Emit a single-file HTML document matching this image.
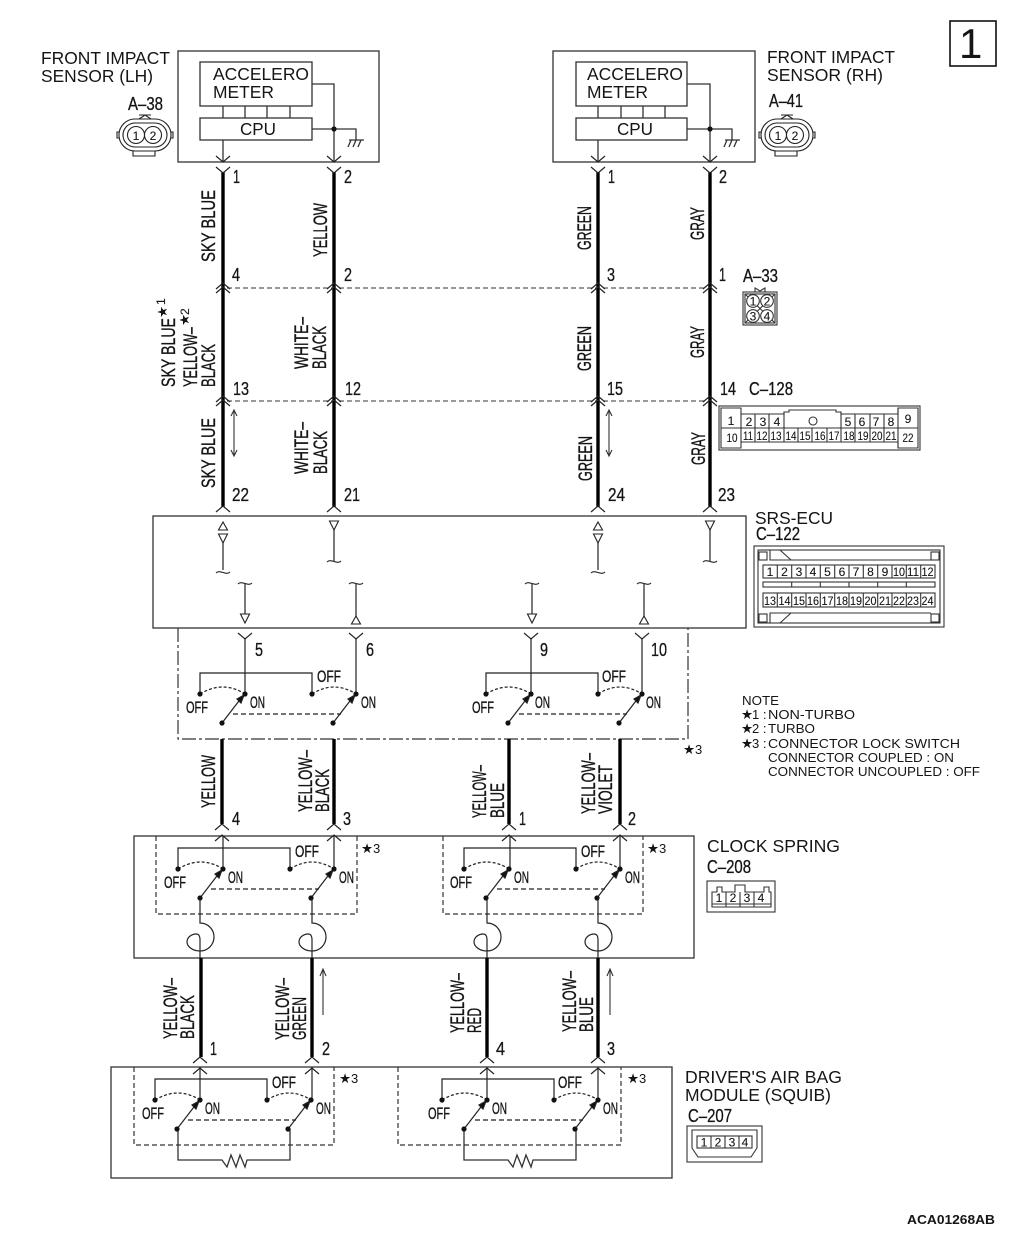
<!DOCTYPE html>
<html><head><meta charset="utf-8"><style>
html,body{margin:0;padding:0;background:#fff}
svg{display:block;position:absolute;left:0;top:0}
text{font-family:"Liberation Sans","DejaVu Sans",sans-serif;fill:#151515;stroke:none}
.n{font-size:18px;stroke:#151515;stroke-width:.3px}
.v{font-size:19px;stroke:#151515;stroke-width:.35px}
.t{font-size:17.5px}
.s{font-size:12px;stroke:#151515;stroke-width:.12px}
.o{font-size:17px;stroke:#151515;stroke-width:.35px}
.st{font-size:13.5px;font-family:"DejaVu Sans",sans-serif}
.nt{font-size:13px}
</style></head><body>
<svg width="1010" height="1235" viewBox="0 0 1010 1235" xmlns="http://www.w3.org/2000/svg">
<defs>
<path id="vv" d="M-7 -6L0 0L7 -6" fill="none" stroke="#222" stroke-width="1.2"/>
<path id="cc" d="M-7 6L0 0L7 6" fill="none" stroke="#222" stroke-width="1.2"/>
<path id="tu" d="M-4.500 8H4.500L0 0Z" fill="#fff" stroke="#222" stroke-width="1.1"/>
<path id="td" d="M-4.500 0H4.500L0 9Z" fill="#fff" stroke="#222" stroke-width="1.1"/>
<path id="ti" d="M-7 1C-3 -3 3 4 7 0" fill="none" stroke="#222" stroke-width="1.1"/>
<g id="sw" fill="none" stroke="#222" stroke-width="1.2">
<path d="M-45 0V-21H67V0"/>
<path d="M-45 0Q-22 -14 0 0M67 0Q89 -14 111 0" stroke-dasharray="3 2"/>
<path d="M-12 20H96" stroke-dasharray="5 3"/>
<path d="M-23 29L-3 3M88 29L108 3"/>
<path d="M-1 1L-8 5L-4 9Z M110 1L103 5L107 9Z" fill="#111"/>
<g fill="#111" stroke="none"><circle cx="-45" cy="0" r="2.6"/><circle cx="0" cy="0" r="2.6"/><circle cx="67" cy="0" r="2.6"/><circle cx="111" cy="0" r="2.6"/><circle cx="-23" cy="29" r="2.6"/><circle cx="88" cy="29" r="2.6"/></g>
</g>
<path id="sp" d="M0 0V25A14 14 0 0 1 0 53C-8 53 -13 48 -13 44C-13 39 -8 36 -4 36C-1 36 0 38 0 42V60" fill="none" stroke="#222" stroke-width="1.2"/>
<g id="oval" fill="none" stroke="#222" stroke-width="1.1">
<rect x="-26" y="-16" width="52" height="32" rx="16"/>
<rect x="-22" y="-12" width="44" height="24" rx="12"/>
<circle cx="-9" cy="0" r="8.5"/><circle cx="8" cy="0" r="8.5"/>
<path d="M-6 -16L0 -20L6 -16M-6 -20H6M-12 16V21H10V16"/>
<path d="M-26 -3H-28V3H-26M26 -3H28V3H26"/>
</g>
</defs>

<!-- page box -->
<rect x="950" y="21" width="46" height="45" fill="none" stroke="#111" stroke-width="1.6"/>
<text x="959" y="58" font-size="42">1</text>

<g fill="none" stroke="#333" stroke-width="1.3">
<!-- sensors -->
<rect x="178" y="51" width="201" height="111"/>
<rect x="200" y="62" width="112" height="44"/>
<rect x="200" y="118" width="112" height="22"/>
<path d="M223 106V118M245 106V118M267 106V118M290 106V118"/>
<path d="M312 84H334V162M312 129H356V140M348 147L351 140M353 147L356 140M358 147L361 140M349 140H364"/>
<path d="M223 140V162"/>
<rect x="553" y="51" width="202" height="111"/>
<rect x="576" y="62" width="111" height="44"/>
<rect x="576" y="118" width="111" height="22"/>
<path d="M598 106V118M621 106V118M643 106V118M665 106V118"/>
<path d="M687 84H710V162M687 129H732V140M724 147L727 140M729 147L732 140M734 147L737 140M725 140H740"/>
<path d="M598 140V162"/>
<!-- ECU -->
<rect x="153" y="516" width="593" height="112"/>
<path d="M223 543V570M334 530V561M245 583V614M356 583V616M598 543V570M710 530V561M532 583V614M644 583V616"/>
<!-- clock spring / module -->
<rect x="134" y="836" width="560" height="122"/>
<rect x="111" y="1067" width="561" height="111"/>
<!-- connector wires thin -->
<path d="M245 638V694M356 638V694M531 638V694M642 638V694"/>
<path d="M223 836V869M334 836V869M510 836V869M620 836V869"/>
<path d="M200 1067V1100M312 1067V1100M487 1067V1100M598 1067V1100"/>
<!-- resistor loops -->
<path d="M178 1129V1160H222L227 1167L231 1155L236 1167L240 1155L245 1167L247 1160H290V1129"/>
<path d="M464 1129V1160H508L513 1167L517 1155L522 1167L526 1155L531 1167L533 1160H576V1129"/>
</g>
<circle cx="334" cy="129" r="2.6" fill="#111"/><circle cx="710" cy="129" r="2.6" fill="#111"/>

<!-- dashed rows -->
<path d="M227 288H705M227 401H705" fill="none" stroke="#333" stroke-width="1.1" stroke-dasharray="5 3"/>
<!-- dash-dot -->
<path d="M178 628V739H688V628" fill="none" stroke="#333" stroke-width="1.2" stroke-dasharray="14 3 3 3"/>
<!-- dashed switch boxes -->
<g fill="none" stroke="#333" stroke-width="1.2" stroke-dasharray="5 3">
<path d="M156 836V914H357V836"/>
<path d="M443 836V914H643V836"/>
<path d="M134 1067V1145H334V1067"/>
<path d="M398 1067V1145H621V1067"/>
</g>

<!-- thick wires -->
<g stroke="#000" stroke-width="3.4" fill="none">
<path d="M223 172V507M334 172V507M598 172V507M710 172V507"/>
<path d="M222 739V824M334 739V824M509 739V824M620 739V824"/>
<path d="M201 958V1057M312 958V1057M487 958V1057M598 958V1057"/>
</g>

<!-- chevrons -->
<g>
<use href="#vv" x="223" y="162"/><use href="#vv" x="223" y="173"/><use href="#vv" x="334" y="162"/><use href="#vv" x="334" y="173"/>
<use href="#vv" x="598" y="162"/><use href="#vv" x="598" y="173"/><use href="#vv" x="710" y="162"/><use href="#vv" x="710" y="173"/>
<use href="#cc" x="223" y="283"/><use href="#cc" x="223" y="287"/><use href="#cc" x="334" y="283"/><use href="#cc" x="334" y="287"/>
<use href="#cc" x="598" y="283"/><use href="#cc" x="598" y="287"/><use href="#cc" x="710" y="283"/><use href="#cc" x="710" y="287"/>
<use href="#cc" x="223" y="396"/><use href="#cc" x="223" y="400"/><use href="#cc" x="334" y="396"/><use href="#cc" x="334" y="400"/>
<use href="#cc" x="598" y="396"/><use href="#cc" x="598" y="400"/><use href="#cc" x="710" y="396"/><use href="#cc" x="710" y="400"/>
<use href="#cc" x="223" y="506"/><use href="#cc" x="334" y="506"/><use href="#cc" x="598" y="506"/><use href="#cc" x="710" y="506"/>
<use href="#vv" x="245" y="639"/><use href="#vv" x="356" y="639"/><use href="#vv" x="531" y="639"/><use href="#vv" x="642" y="639"/>
<use href="#cc" x="222" y="824"/><use href="#cc" x="222" y="835"/><use href="#cc" x="334" y="824"/><use href="#cc" x="334" y="835"/>
<use href="#cc" x="509" y="824"/><use href="#cc" x="509" y="835"/><use href="#cc" x="620" y="824"/><use href="#cc" x="620" y="835"/>
<use href="#cc" x="200" y="1057"/><use href="#cc" x="200" y="1068"/><use href="#cc" x="312" y="1057"/><use href="#cc" x="312" y="1068"/>
<use href="#cc" x="487" y="1057"/><use href="#cc" x="487" y="1068"/><use href="#cc" x="598" y="1057"/><use href="#cc" x="598" y="1068"/>
</g>

<!-- ECU triangles -->
<use href="#tu" x="223" y="522"/><use href="#td" x="223" y="534"/><use href="#ti" x="223" y="572"/>
<use href="#td" x="334" y="521"/><use href="#ti" x="334" y="561"/>
<use href="#tu" x="598" y="522"/><use href="#td" x="598" y="534"/><use href="#ti" x="598" y="572"/>
<use href="#td" x="710" y="521"/><use href="#ti" x="710" y="561"/>
<use href="#ti" x="245" y="583"/><use href="#td" x="245" y="614"/>
<use href="#ti" x="356" y="583"/><use href="#tu" x="356" y="616"/>
<use href="#ti" x="532" y="583"/><use href="#td" x="532" y="614"/>
<use href="#ti" x="644" y="583"/><use href="#tu" x="644" y="616"/>

<!-- switches -->
<use href="#sw" x="245" y="694"/><use href="#sw" x="531" y="694"/>
<use href="#sw" x="223" y="869"/><use href="#sw" x="509" y="869"/>
<use href="#sw" x="200" y="1100"/><use href="#sw" x="487" y="1100"/>
<use href="#sp" x="200" y="898"/><use href="#sp" x="312" y="898"/><use href="#sp" x="487" y="898"/><use href="#sp" x="598" y="898"/>

<!-- double arrows -->
<g fill="none" stroke="#333" stroke-width="1.1">
<path d="M234 411V455M231 416L234 410L237 416M231 450L234 456L237 450"/>
<path d="M609 411V455M606 416L609 410L612 416M606 450L609 456L612 450"/>
<path d="M323 970V1015M320 976L323 969L326 976"/>
<path d="M610 970V1015M607 976L610 969L613 976"/>
</g>

<!-- switch labels -->
<g>
<text class="o" x="186" y="713" textLength="22" lengthAdjust="spacingAndGlyphs">OFF</text><text class="o" x="250" y="708" textLength="15" lengthAdjust="spacingAndGlyphs">ON</text><text class="o" x="317" y="682" textLength="24" lengthAdjust="spacingAndGlyphs">OFF</text><text class="o" x="361" y="708" textLength="15" lengthAdjust="spacingAndGlyphs">ON</text>
<text class="o" x="472" y="713" textLength="22" lengthAdjust="spacingAndGlyphs">OFF</text><text class="o" x="535" y="708" textLength="15" lengthAdjust="spacingAndGlyphs">ON</text><text class="o" x="602" y="682" textLength="24" lengthAdjust="spacingAndGlyphs">OFF</text><text class="o" x="646" y="708" textLength="15" lengthAdjust="spacingAndGlyphs">ON</text>
<text class="o" x="164" y="888" textLength="22" lengthAdjust="spacingAndGlyphs">OFF</text><text class="o" x="228" y="883" textLength="15" lengthAdjust="spacingAndGlyphs">ON</text><text class="o" x="295" y="857" textLength="24" lengthAdjust="spacingAndGlyphs">OFF</text><text class="o" x="339" y="883" textLength="15" lengthAdjust="spacingAndGlyphs">ON</text>
<text class="o" x="450" y="888" textLength="22" lengthAdjust="spacingAndGlyphs">OFF</text><text class="o" x="514" y="883" textLength="15" lengthAdjust="spacingAndGlyphs">ON</text><text class="o" x="581" y="857" textLength="24" lengthAdjust="spacingAndGlyphs">OFF</text><text class="o" x="625" y="883" textLength="15" lengthAdjust="spacingAndGlyphs">ON</text>
<text class="o" x="142" y="1119" textLength="22" lengthAdjust="spacingAndGlyphs">OFF</text><text class="o" x="205" y="1114" textLength="15" lengthAdjust="spacingAndGlyphs">ON</text><text class="o" x="272" y="1088" textLength="24" lengthAdjust="spacingAndGlyphs">OFF</text><text class="o" x="316" y="1114" textLength="15" lengthAdjust="spacingAndGlyphs">ON</text>
<text class="o" x="428" y="1119" textLength="22" lengthAdjust="spacingAndGlyphs">OFF</text><text class="o" x="492" y="1114" textLength="15" lengthAdjust="spacingAndGlyphs">ON</text><text class="o" x="558" y="1088" textLength="24" lengthAdjust="spacingAndGlyphs">OFF</text><text class="o" x="603" y="1114" textLength="15" lengthAdjust="spacingAndGlyphs">ON</text>
</g>

<!-- pin numbers -->
<text class="n" x="233" y="183" textLength="7" lengthAdjust="spacingAndGlyphs">1</text><text class="n" x="344" y="183" textLength="8" lengthAdjust="spacingAndGlyphs">2</text><text class="n" x="608" y="183" textLength="7" lengthAdjust="spacingAndGlyphs">1</text><text class="n" x="719" y="183" textLength="8" lengthAdjust="spacingAndGlyphs">2</text>
<text class="n" x="232" y="281" textLength="8" lengthAdjust="spacingAndGlyphs">4</text><text class="n" x="344" y="281" textLength="8" lengthAdjust="spacingAndGlyphs">2</text><text class="n" x="607" y="281" textLength="8" lengthAdjust="spacingAndGlyphs">3</text><text class="n" x="719" y="281" textLength="7" lengthAdjust="spacingAndGlyphs">1</text>
<text class="n" x="233" y="395" textLength="16" lengthAdjust="spacingAndGlyphs">13</text><text class="n" x="345" y="395" textLength="16" lengthAdjust="spacingAndGlyphs">12</text><text class="n" x="607" y="395" textLength="16" lengthAdjust="spacingAndGlyphs">15</text><text class="n" x="720" y="395" textLength="16" lengthAdjust="spacingAndGlyphs">14</text>
<text class="n" x="232" y="501" textLength="17" lengthAdjust="spacingAndGlyphs">22</text><text class="n" x="344" y="501" textLength="16" lengthAdjust="spacingAndGlyphs">21</text><text class="n" x="608" y="501" textLength="17" lengthAdjust="spacingAndGlyphs">24</text><text class="n" x="718" y="501" textLength="17" lengthAdjust="spacingAndGlyphs">23</text>
<text class="n" x="255" y="656" textLength="8" lengthAdjust="spacingAndGlyphs">5</text><text class="n" x="366" y="656" textLength="8" lengthAdjust="spacingAndGlyphs">6</text><text class="n" x="540" y="656" textLength="8" lengthAdjust="spacingAndGlyphs">9</text><text class="n" x="651" y="656" textLength="16" lengthAdjust="spacingAndGlyphs">10</text>
<text class="n" x="232" y="825" textLength="8" lengthAdjust="spacingAndGlyphs">4</text><text class="n" x="343" y="825" textLength="8" lengthAdjust="spacingAndGlyphs">3</text><text class="n" x="519" y="825" textLength="7" lengthAdjust="spacingAndGlyphs">1</text><text class="n" x="628" y="825" textLength="8" lengthAdjust="spacingAndGlyphs">2</text>
<text class="n" x="210" y="1055" textLength="7" lengthAdjust="spacingAndGlyphs">1</text><text class="n" x="322" y="1055" textLength="8" lengthAdjust="spacingAndGlyphs">2</text><text class="n" x="496" y="1055" textLength="9" lengthAdjust="spacingAndGlyphs">4</text><text class="n" x="607" y="1055" textLength="8" lengthAdjust="spacingAndGlyphs">3</text>

<!-- wire colour labels -->
<text class="v" transform="translate(215,262) rotate(-90)" textLength="72" lengthAdjust="spacingAndGlyphs">SKY BLUE</text>
<text class="v" transform="translate(327,257) rotate(-90)" textLength="54" lengthAdjust="spacingAndGlyphs">YELLOW</text>
<text class="v" transform="translate(591,250) rotate(-90)" textLength="44" lengthAdjust="spacingAndGlyphs">GREEN</text>
<text class="v" transform="translate(704,240) rotate(-90)" textLength="33" lengthAdjust="spacingAndGlyphs">GRAY</text>

<text class="v" transform="translate(175,387) rotate(-90)" textLength="69" lengthAdjust="spacingAndGlyphs">SKY BLUE</text>
<text class="st" transform="translate(167,318) rotate(-90)">★</text>
<text class="s" transform="translate(165,305) rotate(-90)">1</text>
<text class="v" transform="translate(197,387) rotate(-90)" textLength="60" lengthAdjust="spacingAndGlyphs">YELLOW–</text>
<text class="st" transform="translate(189,326) rotate(-90)">★</text>
<text class="s" transform="translate(189,315) rotate(-90)">2</text>
<text class="v" transform="translate(215,387) rotate(-90)" textLength="43" lengthAdjust="spacingAndGlyphs">BLACK</text>
<text class="v" transform="translate(308,369) rotate(-90)" textLength="52" lengthAdjust="spacingAndGlyphs">WHITE–</text>
<text class="v" transform="translate(326,369) rotate(-90)" textLength="43" lengthAdjust="spacingAndGlyphs">BLACK</text>
<text class="v" transform="translate(591,371) rotate(-90)" textLength="45" lengthAdjust="spacingAndGlyphs">GREEN</text>
<text class="v" transform="translate(704,358) rotate(-90)" textLength="32" lengthAdjust="spacingAndGlyphs">GRAY</text>

<text class="v" transform="translate(215,488) rotate(-90)" textLength="70" lengthAdjust="spacingAndGlyphs">SKY BLUE</text>
<text class="v" transform="translate(308,474) rotate(-90)" textLength="52" lengthAdjust="spacingAndGlyphs">WHITE–</text>
<text class="v" transform="translate(327,474) rotate(-90)" textLength="43" lengthAdjust="spacingAndGlyphs">BLACK</text>
<text class="v" transform="translate(592,481) rotate(-90)" textLength="45" lengthAdjust="spacingAndGlyphs">GREEN</text>
<text class="v" transform="translate(705,465) rotate(-90)" textLength="33" lengthAdjust="spacingAndGlyphs">GRAY</text>

<text class="v" transform="translate(215,808) rotate(-90)" textLength="53" lengthAdjust="spacingAndGlyphs">YELLOW</text>
<text class="v" transform="translate(312,812) rotate(-90)" textLength="62" lengthAdjust="spacingAndGlyphs">YELLOW–</text>
<text class="v" transform="translate(329,812) rotate(-90)" textLength="43" lengthAdjust="spacingAndGlyphs">BLACK</text>
<text class="v" transform="translate(486,818) rotate(-90)" textLength="53" lengthAdjust="spacingAndGlyphs">YELLOW–</text>
<text class="v" transform="translate(504,818) rotate(-90)" textLength="35" lengthAdjust="spacingAndGlyphs">BLUE</text>
<text class="v" transform="translate(595,814) rotate(-90)" textLength="61" lengthAdjust="spacingAndGlyphs">YELLOW–</text>
<text class="v" transform="translate(612,814) rotate(-90)" textLength="49" lengthAdjust="spacingAndGlyphs">VIOLET</text>

<text class="v" transform="translate(177,1039) rotate(-90)" textLength="61" lengthAdjust="spacingAndGlyphs">YELLOW–</text>
<text class="v" transform="translate(194,1039) rotate(-90)" textLength="44" lengthAdjust="spacingAndGlyphs">BLACK</text>
<text class="v" transform="translate(289,1040) rotate(-90)" textLength="62" lengthAdjust="spacingAndGlyphs">YELLOW–</text>
<text class="v" transform="translate(306,1040) rotate(-90)" textLength="43" lengthAdjust="spacingAndGlyphs">GREEN</text>
<text class="v" transform="translate(464,1033) rotate(-90)" textLength="60" lengthAdjust="spacingAndGlyphs">YELLOW–</text>
<text class="v" transform="translate(481,1033) rotate(-90)" textLength="25" lengthAdjust="spacingAndGlyphs">RED</text>
<text class="v" transform="translate(576,1032) rotate(-90)" textLength="61" lengthAdjust="spacingAndGlyphs">YELLOW–</text>
<text class="v" transform="translate(593,1032) rotate(-90)" textLength="35" lengthAdjust="spacingAndGlyphs">BLUE</text>

<!-- titles -->
<text class="t" x="41" y="64" textLength="129" lengthAdjust="spacingAndGlyphs">FRONT IMPACT</text>
<text class="t" x="41" y="82" textLength="112" lengthAdjust="spacingAndGlyphs">SENSOR (LH)</text>
<text class="n" x="128" y="110" textLength="35" lengthAdjust="spacingAndGlyphs">A–38</text>
<text class="t" x="213" y="80" textLength="96" lengthAdjust="spacingAndGlyphs">ACCELERO</text>
<text class="t" x="213" y="98" textLength="61" lengthAdjust="spacingAndGlyphs">METER</text>
<text class="t" x="240" y="135" textLength="36" lengthAdjust="spacingAndGlyphs">CPU</text>
<text class="t" x="587" y="80" textLength="96" lengthAdjust="spacingAndGlyphs">ACCELERO</text>
<text class="t" x="587" y="98" textLength="61" lengthAdjust="spacingAndGlyphs">METER</text>
<text class="t" x="617" y="135" textLength="36" lengthAdjust="spacingAndGlyphs">CPU</text>
<text class="t" x="767" y="63" textLength="128" lengthAdjust="spacingAndGlyphs">FRONT IMPACT</text>
<text class="t" x="767" y="81" textLength="116" lengthAdjust="spacingAndGlyphs">SENSOR (RH)</text>
<text class="n" x="769" y="107" textLength="34" lengthAdjust="spacingAndGlyphs">A–41</text>
<text class="n" x="743" y="282" textLength="35" lengthAdjust="spacingAndGlyphs">A–33</text>
<text class="n" x="749" y="395" textLength="44" lengthAdjust="spacingAndGlyphs">C–128</text>
<text class="t" x="755" y="524" textLength="78" lengthAdjust="spacingAndGlyphs">SRS-ECU</text>
<text class="n" x="756" y="540" textLength="44" lengthAdjust="spacingAndGlyphs">C–122</text>
<text class="t" x="707" y="852" textLength="133" lengthAdjust="spacingAndGlyphs">CLOCK SPRING</text>
<text class="n" x="707" y="873" textLength="44" lengthAdjust="spacingAndGlyphs">C–208</text>
<text class="t" x="685" y="1083" textLength="157" lengthAdjust="spacingAndGlyphs">DRIVER'S AIR BAG</text>
<text class="t" x="685" y="1101" textLength="146" lengthAdjust="spacingAndGlyphs">MODULE (SQUIB)</text>
<text class="n" x="688" y="1122" textLength="44" lengthAdjust="spacingAndGlyphs">C–207</text>
<text x="907" y="1224" font-size="12.5" font-weight="bold" textLength="88" lengthAdjust="spacingAndGlyphs">ACA01268AB</text>

<!-- stars -->
<text class="st" x="683" y="754">★</text><text class="nt" x="695" y="754">3</text>
<text class="st" x="361" y="853">★</text><text class="nt" x="373" y="853">3</text>
<text class="st" x="647" y="853">★</text><text class="nt" x="659" y="853">3</text>
<text class="st" x="339" y="1083">★</text><text class="nt" x="351" y="1083">3</text>
<text class="st" x="627" y="1083">★</text><text class="nt" x="639" y="1083">3</text>

<!-- note -->
<text class="nt" x="742" y="705" textLength="37" lengthAdjust="spacingAndGlyphs">NOTE</text>
<text class="st" x="741" y="719">★</text><text class="nt" x="752" y="719">1 :</text><text class="nt" x="768" y="719" textLength="87" lengthAdjust="spacingAndGlyphs">NON-TURBO</text>
<text class="st" x="741" y="733">★</text><text class="nt" x="752" y="733">2 :</text><text class="nt" x="768" y="733" textLength="47" lengthAdjust="spacingAndGlyphs">TURBO</text>
<text class="st" x="741" y="748">★</text><text class="nt" x="752" y="748">3 :</text><text class="nt" x="768" y="748" textLength="192" lengthAdjust="spacingAndGlyphs">CONNECTOR LOCK SWITCH</text>
<text class="nt" x="768" y="762" textLength="186" lengthAdjust="spacingAndGlyphs">CONNECTOR COUPLED : ON</text>
<text class="nt" x="768" y="776" textLength="212" lengthAdjust="spacingAndGlyphs">CONNECTOR UNCOUPLED : OFF</text>

<!-- connector: A-38 / A-41 -->
<use href="#oval" x="145" y="135"/>
<text class="s" x="136" y="140" text-anchor="middle">1</text><text class="s" x="153" y="140" text-anchor="middle">2</text>
<use href="#oval" x="787" y="135"/>
<text class="s" x="778" y="140" text-anchor="middle">1</text><text class="s" x="795" y="140" text-anchor="middle">2</text>

<!-- A-33 -->
<g fill="none" stroke="#333" stroke-width="1.1">
<rect x="743" y="292" width="34" height="33"/><rect x="745" y="294" width="30" height="29"/>
<path d="M755 292V288L760 291L765 288V292"/>
<path d="M745 294L775 323M775 294L745 323"/>
<g fill="#fff"><circle cx="753" cy="301" r="6.3"/><circle cx="767" cy="301" r="6.3"/><circle cx="753" cy="316" r="6.3"/><circle cx="767" cy="316" r="6.3"/></g>
</g>
<text class="s" x="753" y="305.500" text-anchor="middle">1</text><text class="s" x="767" y="305.500" text-anchor="middle">2</text><text class="s" x="753" y="320.500" text-anchor="middle">3</text><text class="s" x="767" y="320.500" text-anchor="middle">4</text>

<!-- C-128 -->
<g fill="none" stroke="#333" stroke-width="1.1">
<rect x="719" y="406" width="201" height="44"/>
<path d="M721 408H741V414H784V412H789V410H836V412H841V414H898V408H918V448H898V442H741V448H721Z"/>
<path d="M721 428H784M841 428H918M784 428H841"/>
<path d="M741 414V442M755 414V442M769 414V442M784 412V442M798 428V442M812 428V442M827 428V442M841 412V442M855 414V442M870 414V442M884 414V442M898 408V448"/>
<circle cx="813" cy="421" r="4"/>
</g>
<g text-anchor="middle">
<text class="s" x="731" y="425">1</text><text class="s" x="749" y="426">2</text><text class="s" x="763" y="426">3</text><text class="s" x="777" y="426">4</text><text class="s" x="848" y="426">5</text><text class="s" x="862" y="426">6</text><text class="s" x="876" y="426">7</text><text class="s" x="891" y="426">8</text><text class="s" x="908" y="423">9</text>
<text class="s" x="732" y="442" textLength="11" lengthAdjust="spacingAndGlyphs">10</text><text class="s" x="748" y="440" textLength="10" lengthAdjust="spacingAndGlyphs">11</text><text class="s" x="762" y="440" textLength="11" lengthAdjust="spacingAndGlyphs">12</text><text class="s" x="776" y="440" textLength="11" lengthAdjust="spacingAndGlyphs">13</text><text class="s" x="791" y="440" textLength="11" lengthAdjust="spacingAndGlyphs">14</text><text class="s" x="805" y="440" textLength="11" lengthAdjust="spacingAndGlyphs">15</text><text class="s" x="820" y="440" textLength="11" lengthAdjust="spacingAndGlyphs">16</text><text class="s" x="834" y="440" textLength="11" lengthAdjust="spacingAndGlyphs">17</text><text class="s" x="849" y="440" textLength="11" lengthAdjust="spacingAndGlyphs">18</text><text class="s" x="863" y="440" textLength="11" lengthAdjust="spacingAndGlyphs">19</text><text class="s" x="877" y="440" textLength="11" lengthAdjust="spacingAndGlyphs">20</text><text class="s" x="891" y="440" textLength="11" lengthAdjust="spacingAndGlyphs">21</text><text class="s" x="908" y="442" textLength="11" lengthAdjust="spacingAndGlyphs">22</text>
</g>

<!-- C-122 -->
<g fill="none" stroke="#333" stroke-width="1.1">
<rect x="754" y="546" width="190" height="81"/>
<rect x="758" y="550" width="182" height="73"/>
<rect x="759" y="552" width="8" height="8"/><rect x="931" y="552" width="8" height="8"/>
<rect x="759" y="614" width="8" height="8"/><rect x="931" y="614" width="8" height="8"/>
<path d="M770 550V560H931M780 550L791 560"/>
<path d="M770 623V613H931M780 623L791 613"/>
<rect x="763" y="565" width="172" height="13"/>
<rect x="763" y="593" width="172" height="14"/>
<rect x="763" y="582" width="172" height="5"/>
<path d="M777.300 565V578M791.700 565V578M806 565V578M820.300 565V578M834.700 565V578M849 565V578M863.300 565V578M877.700 565V578M892 565V578M906.300 565V578M920.700 565V578"/>
<path d="M777.300 593V607M791.700 593V607M806 593V607M820.300 593V607M834.700 593V607M849 593V607M863.300 593V607M877.700 593V607M892 593V607M906.300 593V607M920.700 593V607"/>
<path d="M791.700 582V587M820.300 582V587M849 582V587M877.700 582V587M906.300 582V587"/>
</g>
<text class="s" x="770" y="576" text-anchor="middle">1</text><text class="s" x="784.500" y="576" text-anchor="middle">2</text><text class="s" x="799" y="576" text-anchor="middle">3</text><text class="s" x="813" y="576" text-anchor="middle">4</text><text class="s" x="827.500" y="576" text-anchor="middle">5</text><text class="s" x="842" y="576" text-anchor="middle">6</text><text class="s" x="856" y="576" text-anchor="middle">7</text><text class="s" x="870.500" y="576" text-anchor="middle">8</text><text class="s" x="885" y="576" text-anchor="middle">9</text>
<text class="s" x="893" y="576" textLength="12" lengthAdjust="spacingAndGlyphs">10</text><text class="s" x="907" y="576" textLength="12" lengthAdjust="spacingAndGlyphs">11</text><text class="s" x="921.500" y="576" textLength="12" lengthAdjust="spacingAndGlyphs">12</text>
<text class="s" x="764" y="605" textLength="12" lengthAdjust="spacingAndGlyphs">13</text><text class="s" x="778.500" y="605" textLength="12" lengthAdjust="spacingAndGlyphs">14</text><text class="s" x="793" y="605" textLength="12" lengthAdjust="spacingAndGlyphs">15</text><text class="s" x="807" y="605" textLength="12" lengthAdjust="spacingAndGlyphs">16</text><text class="s" x="821.500" y="605" textLength="12" lengthAdjust="spacingAndGlyphs">17</text><text class="s" x="836" y="605" textLength="12" lengthAdjust="spacingAndGlyphs">18</text><text class="s" x="850" y="605" textLength="12" lengthAdjust="spacingAndGlyphs">19</text><text class="s" x="864.500" y="605" textLength="12" lengthAdjust="spacingAndGlyphs">20</text><text class="s" x="879" y="605" textLength="12" lengthAdjust="spacingAndGlyphs">21</text><text class="s" x="893" y="605" textLength="12" lengthAdjust="spacingAndGlyphs">22</text><text class="s" x="907" y="605" textLength="12" lengthAdjust="spacingAndGlyphs">23</text><text class="s" x="921.500" y="605" textLength="12" lengthAdjust="spacingAndGlyphs">24</text>

<!-- C-208 -->
<g fill="none" stroke="#333" stroke-width="1.1">
<rect x="707" y="881" width="68" height="31"/>
<path d="M712 892H717V887H722V892H735V885H745V892H764V887H769V892H771V907H712Z"/>
<path d="M726 892V907M740 892V907M754 892V907M712 904H771"/>
</g>
<text class="s" x="719" y="902" text-anchor="middle">1</text><text class="s" x="733" y="902" text-anchor="middle">2</text><text class="s" x="747" y="902" text-anchor="middle">3</text><text class="s" x="761" y="902" text-anchor="middle">4</text>

<!-- C-207 -->
<g fill="none" stroke="#333" stroke-width="1.1">
<rect x="687" y="1126" width="75" height="36"/>
<path d="M692 1130H757V1148L751 1157H698L692 1148Z"/>
<rect x="697" y="1136" width="55" height="12"/>
<path d="M711 1136V1148M725 1136V1148M739 1136V1148"/>
</g>
<text class="s" x="704" y="1146.500" text-anchor="middle">1</text><text class="s" x="718" y="1146.500" text-anchor="middle">2</text><text class="s" x="732" y="1146.500" text-anchor="middle">3</text><text class="s" x="745" y="1146.500" text-anchor="middle">4</text>
</svg>
</body></html>
